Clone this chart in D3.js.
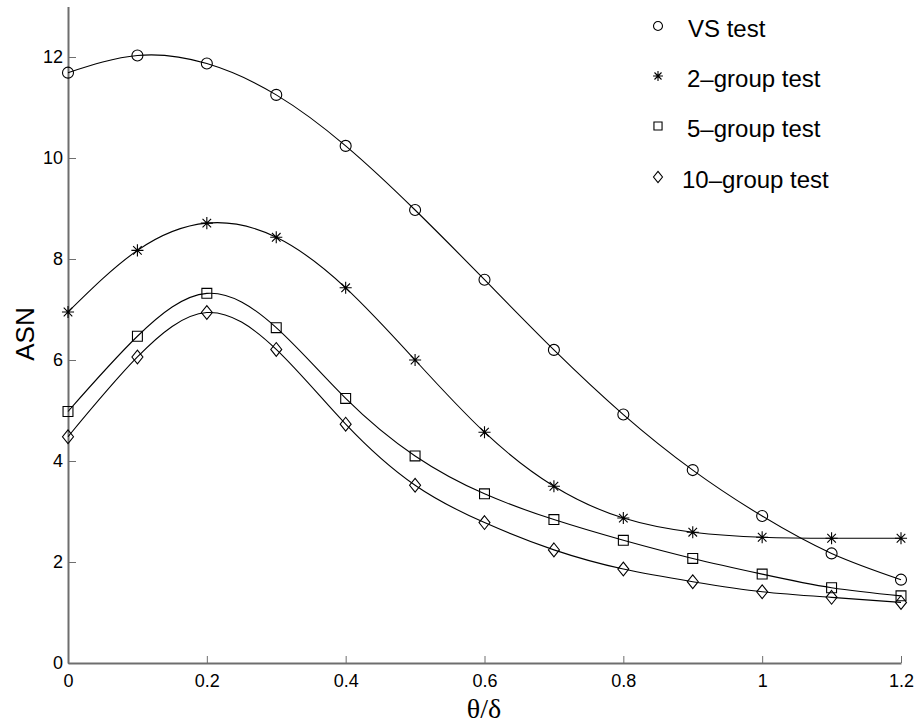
<!DOCTYPE html>
<html>
<head>
  <style>
    body { margin: 0; background: white; }
    svg text { font-family: "Liberation Sans", Arial, sans-serif; fill: black; }
    .axis path, .axis line { stroke: #6e6e6e; }
    .axis path { stroke-width: 2; }
    .axis text { font-size: 18px; }
    .curve { fill: none; stroke: black; stroke-width: 1.1; }
    .marker { fill: none; stroke: black; stroke-width: 1.1; }
  </style>
</head>
<body>
  <script src="https://d3js.org/d3.v7.min.js"></script>
  <script>
    const thetaRatio = [0, 0.1, 0.2, 0.3, 0.4, 0.5, 0.6, 0.7, 0.8, 0.9, 1.0, 1.1, 1.2];
    const vsTest  = [11.69, 12.03, 11.87, 11.25, 10.24, 8.97, 7.59, 6.20, 4.92, 3.82, 2.91, 2.17, 1.65];
    const group2  = [6.95, 8.17, 8.71, 8.43, 7.43, 6.00, 4.57, 3.50, 2.87, 2.59, 2.49, 2.47, 2.47];
    const group5  = [4.98, 6.47, 7.32, 6.64, 5.24, 4.10, 3.35, 2.84, 2.43, 2.07, 1.76, 1.49, 1.33];
    const group10 = [4.48, 6.06, 6.94, 6.21, 4.73, 3.52, 2.78, 2.24, 1.86, 1.61, 1.41, 1.30, 1.20];
    const seriesNames = ['VS test', '2\u2013group test', '5\u2013group test', '10\u2013group test'];
    const markerTypes = ['circle', 'star', 'square', 'diamond'];
    const xTicks = [0, 0.2, 0.4, 0.6, 0.8, 1, 1.2];
    const yTicks = [0, 2, 4, 6, 8, 10, 12];

    const width = 915, height = 723;
    const svg = d3.select('body').append('svg')
      .attr('width', width)
      .attr('height', height);

    const x = d3.scaleLinear().domain([0, 1.2]).range([68, 901]);
    const y = d3.scaleLinear().domain([0, 13]).range([663, 6.5]);

    // axes (matlab style, ticks pointing in)
    svg.append('g')
      .attr('class', 'axis')
      .attr('transform', 'translate(0,663)')
      .call(d3.axisBottom(x).tickValues(xTicks).tickFormat(d3.format('')).tickSizeInner(-7).tickSizeOuter(0).tickPadding(11));

    svg.append('g')
      .attr('class', 'axis')
      .attr('transform', 'translate(68,0)')
      .call(d3.axisLeft(y).tickValues(yTicks).tickSizeInner(-8).tickSizeOuter(0).tickPadding(5));

    // markers
    function markerPath(type, s) {
      const p = d3.path();
      if (type === 'circle') {
        p.moveTo(s, 0); p.arc(0, 0, s, 0, 2 * Math.PI);
      } else if (type === 'square') {
        p.rect(-s * 0.9, -s * 0.9, s * 1.8, s * 1.8);
      } else if (type === 'diamond') {
        p.moveTo(0, -s * 1.25); p.lineTo(s, 0); p.lineTo(0, s * 1.25); p.lineTo(-s, 0); p.closePath();
      } else {
        const a = s * 1.1, b = s * 0.78;
        p.moveTo(-a, 0); p.lineTo(a, 0);
        p.moveTo(0, -a); p.lineTo(0, a);
        p.moveTo(-b, -b); p.lineTo(b, b);
        p.moveTo(-b, b); p.lineTo(b, -b);
      }
      return p.toString();
    }

    const allSeries = [vsTest, group2, group5, group10];
    const line = d3.line()
      .x((d, i) => x(thetaRatio[i]))
      .y(d => y(d))
      .curve(d3.curveNatural);

    allSeries.forEach((vals, k) => {
      svg.append('path')
        .attr('class', 'curve')
        .attr('d', line(vals));
      svg.selectAll(null)
        .data(vals)
        .enter()
        .append('path')
        .attr('class', 'marker')
        .attr('transform', (d, i) => `translate(${x(thetaRatio[i])},${y(d)})`)
        .attr('d', markerPath(markerTypes[k], 5.5));
    });

    // legend
    const legend = svg.append('g').attr('transform', 'translate(658,0)');
    const legendRows = [28, 78, 128, 179];
    const legendTextX = [30, 29, 29, 24];
    seriesNames.forEach((name, k) => {
      legend.append('path')
        .attr('class', 'marker')
        .attr('transform', `translate(0,${legendRows[k] - 2})`)
        .attr('d', markerPath(markerTypes[k], 4.5));
      legend.append('text')
        .attr('x', legendTextX[k])
        .attr('y', legendRows[k] + 3)
        .attr('dominant-baseline', 'middle')
        .style('font-size', '24px')
        .text(name);
    });

    // axis labels
    svg.append('text')
      .attr('transform', 'translate(34,334) rotate(-90)')
      .attr('text-anchor', 'middle')
      .style('font-size', '26px')
      .text('ASN');

    svg.append('text')
      .attr('x', 484)
      .attr('y', 718)
      .attr('text-anchor', 'middle')
      .style('font-family', '"Liberation Serif", "Times New Roman", serif')
      .style('font-size', '28px')
      .text('\u03b8/\u03b4');
  </script>
</body>
</html>
